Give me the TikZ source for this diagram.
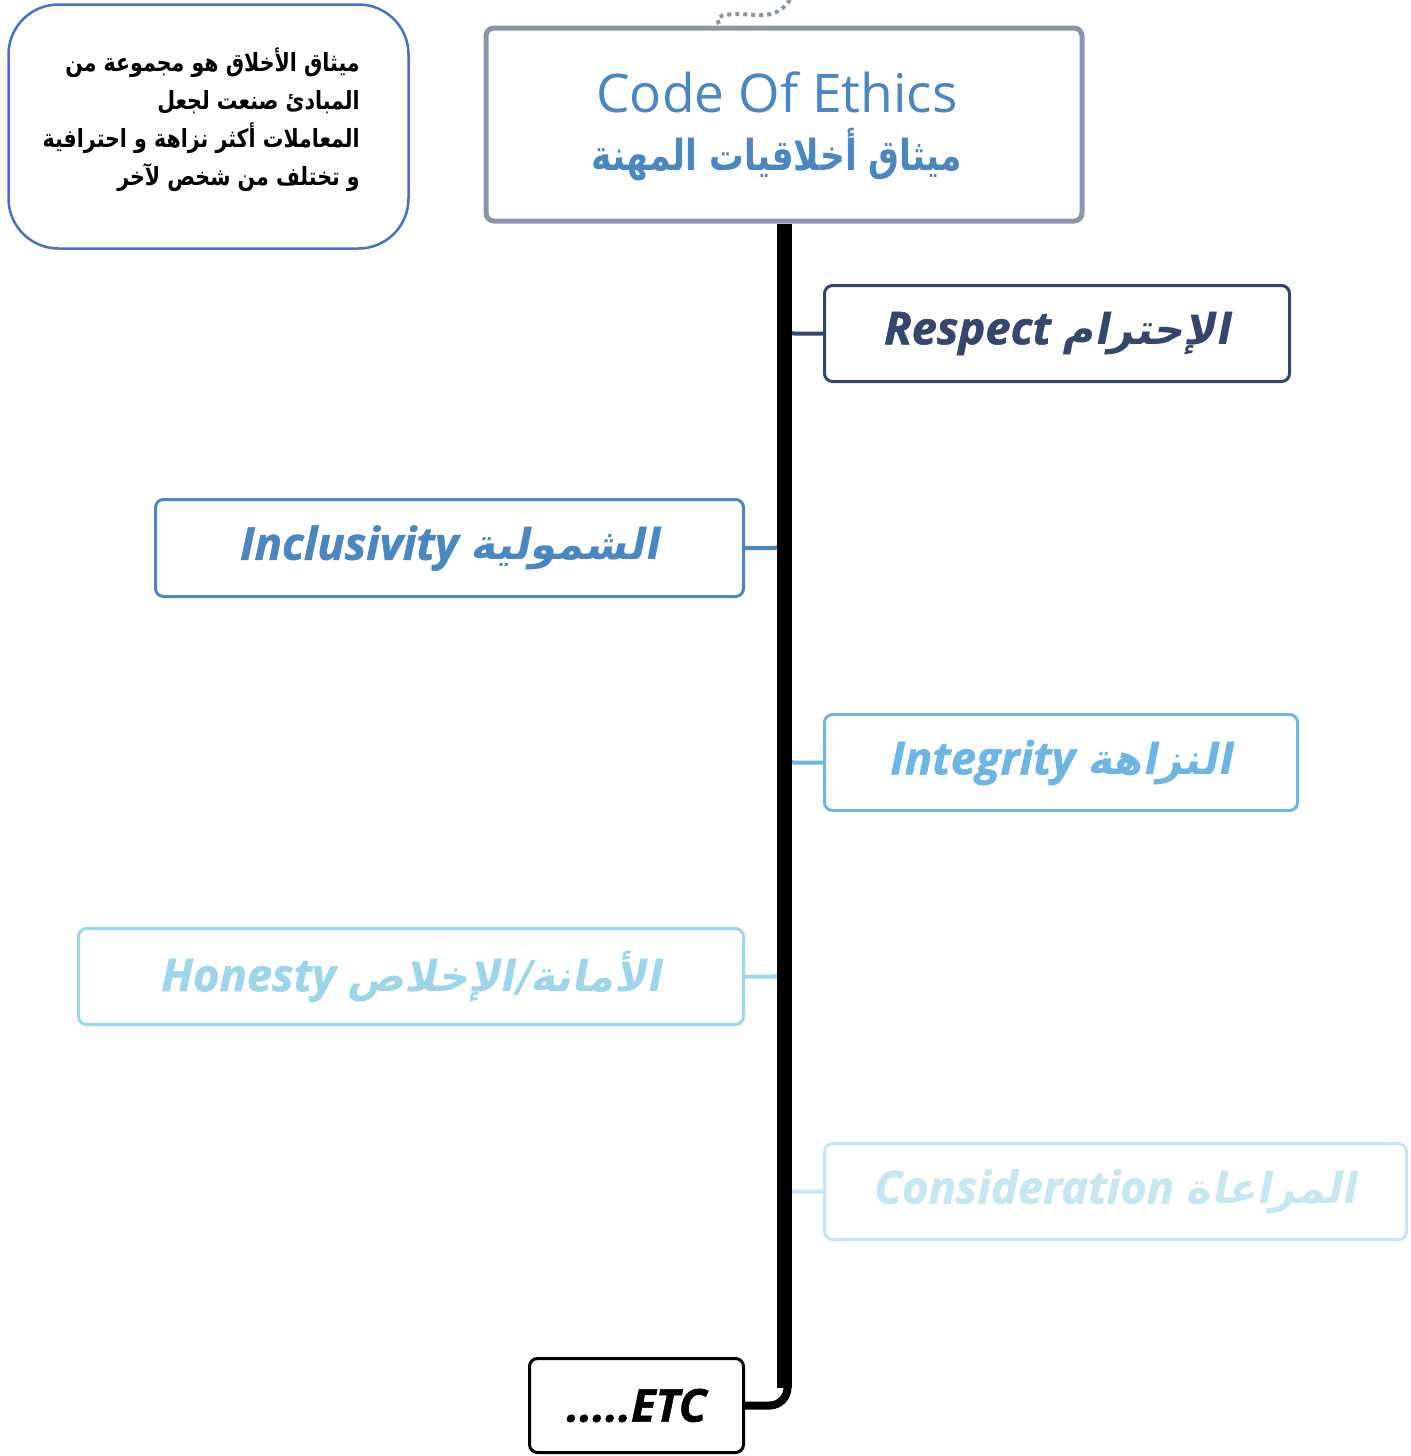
\documentclass[tikz,border=0pt]{standalone}
\usepackage{fontspec}
\setmainfont[BoldItalicFeatures={FakeBold=1.2}]{Open Sans}
\TeXXeTstate=1
\newfontfamily\arbb[Script=Arabic]{DejaVu Sans Bold}
\newfontfamily\arbcall[Script=Arabic,FakeStretch=0.82]{DejaVu Sans Bold}
\newfontfamily\arbtitle[Script=Arabic,FakeStretch=0.81]{DejaVu Sans Bold}
\newfontfamily\arbbi[Script=Arabic,FakeSlant=0.2]{DejaVu Sans Bold}
\newdimen\pxu \pxu=0.75pt
\definecolor{navy}{RGB}{52,70,107}
\definecolor{blueA}{RGB}{74,134,192}
\definecolor{blueB}{RGB}{109,181,227}
\definecolor{blueC}{RGB}{157,213,234}
\definecolor{blueD}{RGB}{198,231,242}
\definecolor{greyb}{RGB}{138,150,168}
\definecolor{callb}{RGB}{68,114,196}
\tikzset{
  lbl/.style={draw=#1, text=#1, line width=3\pxu, rounded corners=8\pxu, fill=white,
    inner sep=0pt, font=\fontsize{34}{40}\selectfont\bfseries\itshape},
  conn/.style={draw=#1, line width=4\pxu, rounded corners=8\pxu},
}
\newcommand{\arlbl}[1]{{\arbbi\fontsize{32}{38}\selectfont\mdseries\upshape\beginR #1\endR}}
\begin{document}
\begin{tikzpicture}[x=0.75pt,y=-0.75pt]
\useasboundingbox (0,0) rectangle (1410,1456);
% callout
\node[draw=callb, line width=2.5\pxu, rounded corners=50\pxu, minimum width=400\pxu,
  minimum height=244\pxu, inner sep=0pt] (call) at (208.5,126.5) {};
\node[anchor=east, align=right, inner sep=0pt, font=\arbcall\fontsize{18.8}{28.5}\selectfont]
  (calltext) at (360,120)
  {\beginR ميثاق الأخلاق هو مجموعة من\endR\\
   \beginR المبادئ صنعت لجعل\endR\\
   \beginR المعاملات أكثر نزاهة و احترافية\endR\\
   \beginR و تختلف من شخص لآخر\endR};
% dotted loop
\draw[greyb, line width=4\pxu, dash pattern=on 4\pxu off 4\pxu]
  (719,24) .. controls (712,12) and (735,14) .. (758,15) .. controls (776,16) and (786,8) .. (792,-4);
% title
\node[draw=greyb, line width=5\pxu, rounded corners=8\pxu, fill=white, minimum width=596\pxu,
  minimum height=193\pxu, inner sep=0pt] (title) at (784,124.5) {};
\node[text=blueA, inner sep=0pt, font=\fontsize{40}{46}\selectfont] (titleEn) at (777,92) {Code Of Ethics};
\node[text=blueA, inner sep=0pt, font=\arbtitle\fontsize{32}{38}\selectfont] (titleAr) at (777,155)
  {\beginR ميثاق أخلاقيات المهنة\endR};
% boxes
\node[lbl=navy, minimum width=465\pxu, minimum height=96\pxu] (respect) at (1057,333.5)
  {Respect \arlbl{الإحترام}};
\node[lbl=blueA, minimum width=588\pxu, minimum height=97\pxu] (incl) at (449.5,548)
  {Inclusivity \arlbl{الشمولية}};
\node[lbl=blueB, minimum width=473\pxu, minimum height=96\pxu] (integ) at (1061,762.5)
  {Integrity \arlbl{النزاهة}};
\node[lbl=blueC, minimum width=665\pxu, minimum height=96\pxu] (hon) at (411,976.5)
  {Honesty \arlbl{الأمانة/الإخلاص}};
\node[lbl=blueD, minimum width=582\pxu, minimum height=96\pxu] (cons) at (1115.5,1191.5)
  {Consideration \arlbl{المراعاة}};
\node[lbl=black, minimum width=214\pxu, minimum height=94\pxu] (etc) at (636.5,1405.5)
  {.....ETC};
% connectors
\draw[conn=navy] (786,321.5) |- (respect.west);
\draw[conn=blueA] (782,536) |- (incl.east);
\draw[conn=blueB] (786,750.5) |- (integ.west);
\draw[conn=blueC] (782,964.5) |- (hon.east);
\draw[conn=blueD] (786,1179.5) |- (cons.west);
% trunk
\draw[line width=15\pxu] (title.south) -- (784,1388);
\draw[line width=8\pxu, rounded corners=18\pxu] (787.5,1370) |- (etc.east);
\end{tikzpicture}
\end{document}
